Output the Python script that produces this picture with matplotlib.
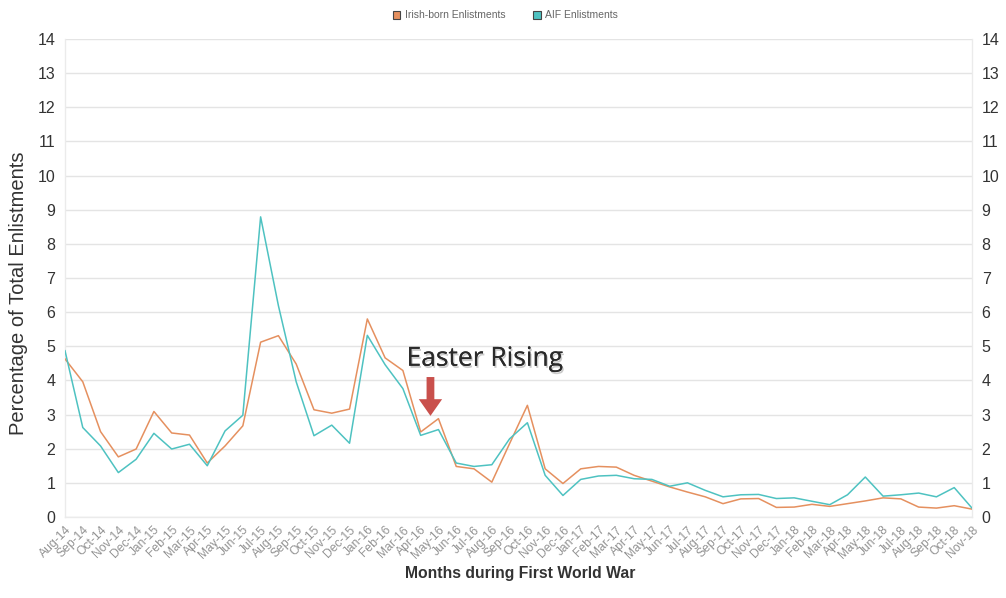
import matplotlib
matplotlib.use("Agg")
import matplotlib.pyplot as plt
from matplotlib.patches import FancyArrowPatch, Rectangle
import matplotlib.patheffects as pe

months = [
    "Aug-14", "Sep-14", "Oct-14", "Nov-14", "Dec-14",
    "Jan-15", "Feb-15", "Mar-15", "Apr-15", "May-15", "Jun-15", "Jul-15",
    "Aug-15", "Sep-15", "Oct-15", "Nov-15", "Dec-15",
    "Jan-16", "Feb-16", "Mar-16", "Apr-16", "May-16", "Jun-16", "Jul-16",
    "Aug-16", "Sep-16", "Oct-16", "Nov-16", "Dec-16",
    "Jan-17", "Feb-17", "Mar-17", "Apr-17", "May-17", "Jun-17", "Jul-17",
    "Aug-17", "Sep-17", "Oct-17", "Nov-17", "Dec-17",
    "Jan-18", "Feb-18", "Mar-18", "Apr-18", "May-18", "Jun-18", "Jul-18",
    "Aug-18", "Sep-18", "Oct-18", "Nov-18",
]

irish_born = [
    4.63, 3.96, 2.50, 1.76, 1.99,
    3.09, 2.46, 2.40, 1.58, 2.08, 2.67, 5.12,
    5.31, 4.48, 3.14, 3.04, 3.16,
    5.80, 4.66, 4.29, 2.49, 2.88, 1.48, 1.41,
    1.02, 2.15, 3.27, 1.41, 0.98,
    1.41, 1.48, 1.46, 1.22, 1.05, 0.88, 0.73,
    0.59, 0.39, 0.53, 0.54, 0.28,
    0.29, 0.37, 0.31, 0.39, 0.47, 0.56, 0.53,
    0.29, 0.26, 0.33, 0.23,
]

aif = [
    4.87, 2.62, 2.08, 1.30, 1.69,
    2.45, 1.99, 2.13, 1.50, 2.52, 2.98, 8.79,
    6.19, 3.96, 2.38, 2.69, 2.16,
    5.32, 4.46, 3.76, 2.39, 2.56, 1.58, 1.48,
    1.53, 2.29, 2.76, 1.22, 0.63,
    1.10, 1.20, 1.22, 1.12, 1.10, 0.90, 1.00,
    0.78, 0.59, 0.65, 0.66, 0.54,
    0.56, 0.46, 0.36, 0.65, 1.17, 0.61, 0.65,
    0.70, 0.59, 0.86, 0.26,
]

y_ticks = list(range(0, 15))

ORANGE = "#E5905F"
TEAL = "#4EC2C1"
GRID = "#E4E4E4"
TEXT = "#333333"

plt.rcParams["font.family"] = ["Liberation Sans", "DejaVu Sans"]

fig = plt.figure(figsize=(10.06, 5.98), dpi=100)
ax = fig.add_axes([0.0646, 0.1355, 0.9016, 0.7993])

x = list(range(len(months)))
ax.plot(x, irish_born, color=ORANGE, lw=1.1, zorder=3)
ax.plot(x, aif, color=TEAL, lw=1.1, zorder=3)

ax.set_xlim(0, len(months) - 1)
ax.set_ylim(0, 14)
ax.set_yticks(y_ticks)
ax.set_yticklabels([str(v) for v in y_ticks])
ax.grid(axis="y", color=GRID, lw=1.0)
ax.set_axisbelow(True)

ax.spines["top"].set_visible(False)
for side in ("left", "right", "bottom"):
    ax.spines[side].set_color("#EBEBEB")
    ax.spines[side].set_linewidth(1.0)

ax.tick_params(axis="y", length=0, labelsize=11.5, labelcolor=TEXT, pad=7,
               labelright=True, right=False)
ax.set_xticks(x)
ax.set_xticklabels(months, rotation=45, ha="right", va="top",
                   rotation_mode="anchor", fontsize=8.7, color="#939393")
ax.tick_params(axis="x", length=0, pad=5)

# Axis titles placed at fixed figure positions
fig.text(0.0179, 0.51, "Percentage of Total Enlistments", rotation=90,
         fontsize=14.5, color=TEXT, ha="center", va="center")
fig.text(0.517, 0.041, "Months during First World War", fontsize=11.3,
         fontweight="bold", color=TEXT, ha="center", va="center")

# Annotation marking the Easter Rising (April 1916)
ax.text(23.6, 4.62, "Easter Rising", fontsize=19, color="#2A2A2A",
        family=["Open Sans", "DejaVu Sans"], ha="center", va="center",
        path_effects=[pe.withSimplePatchShadow(offset=(1, -1.5),
                                               shadow_rgbFace="#999999",
                                               alpha=0.5),
                      pe.Normal()])
arrow = FancyArrowPatch((20.55, 4.18), (20.55, 2.88),
                        arrowstyle="simple,head_length=0.75,head_width=1.05,tail_width=0.35",
                        mutation_scale=16, color="#C9504C", lw=0, zorder=5)
ax.add_patch(arrow)

# Legend across the top
legend_items = [("Irish-born Enlistments", ORANGE, 0.3906),
                ("AIF Enlistments", TEAL, 0.5298)]
for label, color, fx in legend_items:
    fig.patches.append(Rectangle((fx, 0.9685), 0.0075, 0.0125,
                                 transform=fig.transFigure, facecolor=color,
                                 edgecolor="#444444", lw=0.8))
    fig.text(fx + 0.0115, 0.9747, label, fontsize=7.5, color="#666666",
             ha="left", va="center")

fig.savefig("out.png", dpi=100, facecolor="white")
